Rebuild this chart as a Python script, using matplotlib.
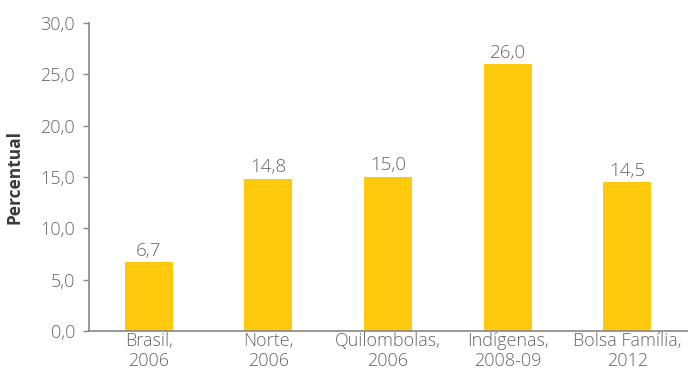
import matplotlib.pyplot as plt
import numpy as np

categorias = ['Brasil,\n2006', 'Norte,\n2006', 'Quilombolas,\n2006', 'Indígenas,\n2008-09', 'Bolsa Família,\n2012']
valores = [6.7, 14.8, 15.0, 26.0, 14.5]
yticks = [0, 5, 10, 15, 20, 25, 30]

plt.rcParams['font.family'] = ['Open Sans', 'DejaVu Sans']
cinza = '#666666'
peso = 'light'

fig = plt.figure(figsize=(6.88, 3.72), dpi=100)
ax = fig.add_axes([89/688, 41/372, 598/688, 308/372])

x = np.arange(len(valores))
ax.bar(x, valores, width=0.4, color='#FEC80D')

for xi, v in zip(x, valores):
    ax.text(xi, v + 0.25, f'{v:.1f}'.replace('.', ','), ha='center', va='bottom',
            fontsize=13.5, color=cinza, fontweight=peso)

ax.set_xlim(-0.5, 4.5)
ax.set_ylim(0, 30)
ax.set_yticks(yticks)
ax.set_yticklabels([f'{t:.1f}'.replace('.', ',') for t in yticks], fontsize=13,
                   color=cinza, fontweight=peso)
ax.set_xticks(x)
ax.set_xticklabels(categorias, fontsize=13, color=cinza, linespacing=1.12, fontweight=peso)
ax.tick_params(axis='x', length=0, pad=1)
ax.tick_params(axis='y', length=4, width=1, color='#888888', pad=6)

for s in ['top', 'right']:
    ax.spines[s].set_visible(False)
for s in ['left', 'bottom']:
    ax.spines[s].set_color('#888888')
    ax.spines[s].set_linewidth(1.2)

ax.set_ylabel('Percentual', fontsize=12.5, fontweight='bold', color='#3a3a3a', labelpad=12)

fig.savefig('out.png', dpi=100)
